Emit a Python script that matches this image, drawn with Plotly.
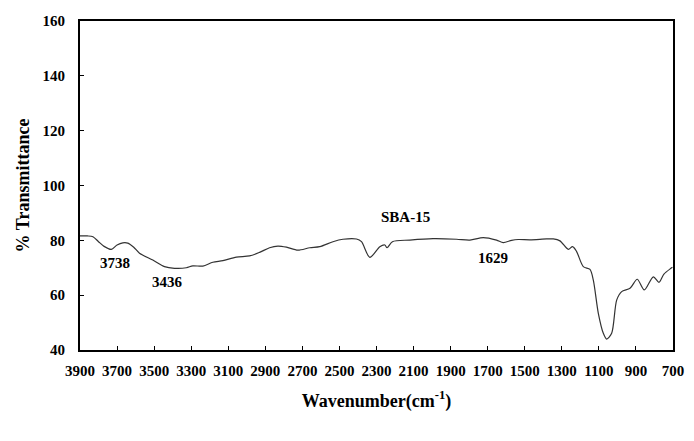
import plotly.graph_objects as go

wavenumber = [3900, 3860, 3830, 3800, 3770, 3731, 3700, 3669, 3642, 3610, 3579, 3507, 3444, 3390,
              3326, 3291, 3237, 3183, 3129, 3056, 2985, 2931, 2877, 2832, 2786, 2724, 2660, 2606,
              2535, 2481, 2408, 2381, 2336, 2282, 2255, 2243, 2214, 2120, 1995, 1868, 1796, 1724,
              1652, 1616, 1571, 1535, 1472, 1382, 1346, 1310, 1265, 1242, 1220, 1184, 1148, 1130,
              1103, 1076, 1058, 1031, 1004, 977, 932, 893, 855, 806, 776, 749, 711, 703]
transmittance = [81.6, 81.6, 81.3, 79.5, 77.8, 76.7, 78.3, 79.1, 79.0, 77.5, 75.3, 72.8, 70.4, 69.8,
                 70.0, 70.7, 70.6, 72.0, 72.6, 73.9, 74.3, 75.6, 77.3, 77.9, 77.5, 76.4, 77.3, 77.7,
                 79.5, 80.4, 80.5, 79.5, 73.8, 77.7, 78.3, 77.3, 79.5, 80.1, 80.6, 80.4, 80.1, 81.0,
                 80.1, 79.2, 80.0, 80.3, 80.2, 80.5, 80.5, 79.8, 76.7, 77.7, 75.9, 70.4, 69.4, 65.5,
                 53.4, 46.1, 44.0, 46.1, 58.2, 61.3, 62.5, 65.8, 61.9, 66.7, 64.7, 67.7, 69.8, 70.2]

label_text = ["3738", "3436", "SBA-15", "1629"]
label_x = [3710, 3430, 2142, 1674]
label_y = [71.8, 64.9, 88.4, 73.7]

x_ticks = list(range(3900, 699, -200))
y_ticks = [40, 60, 80, 100, 120, 140, 160]

FONT = "Liberation Serif"

fig = go.Figure()
fig.add_trace(go.Scatter(
    x=wavenumber, y=transmittance, mode="lines",
    line=dict(color="#333333", width=1.2, shape="spline", smoothing=0.8),
    showlegend=False, hoverinfo="skip"))

for t, x, y in zip(label_text, label_x, label_y):
    fig.add_annotation(x=x, y=y, xref="x", yref="y", text="<b>" + t + "</b>", showarrow=False,
                       font=dict(family=FONT, size=15, color="black"))

fig.update_layout(
    width=686, height=433,
    margin=dict(l=72, r=21, t=13, b=91),
    paper_bgcolor="white", plot_bgcolor="white",
    font=dict(family=FONT, color="black"),
)
fig.update_xaxes(
    range=[3900, 700], tickvals=x_ticks, ticktext=["<b>%d</b>" % v for v in x_ticks],
    automargin=False,
    showgrid=False, zeroline=False,
    showline=True, linecolor="black", linewidth=2, mirror=True,
    ticks="inside", ticklen=4, tickwidth=1, tickcolor="black",
    tickfont=dict(family=FONT, size=15, color="black"),
    ticklabelstandoff=6,
    title=dict(text="<b>Wavenumber(cm<sup>-1</sup>)</b>", standoff=16,
               font=dict(family=FONT, size=18, color="black")),
)
fig.update_yaxes(
    range=[40, 160], tickvals=y_ticks, ticktext=["<b>%d</b>" % v for v in y_ticks],
    automargin=False,
    showgrid=False, zeroline=False,
    showline=True, linecolor="black", linewidth=2, mirror=True,
    ticks="inside", ticklen=4, tickwidth=1, tickcolor="black",
    tickfont=dict(family=FONT, size=15, color="black"),
    ticklabelstandoff=10,
    title=dict(text="<b>% Transmittance</b>", standoff=8,
               font=dict(family=FONT, size=18, color="black")),
)

fig.write_html("out.html")
